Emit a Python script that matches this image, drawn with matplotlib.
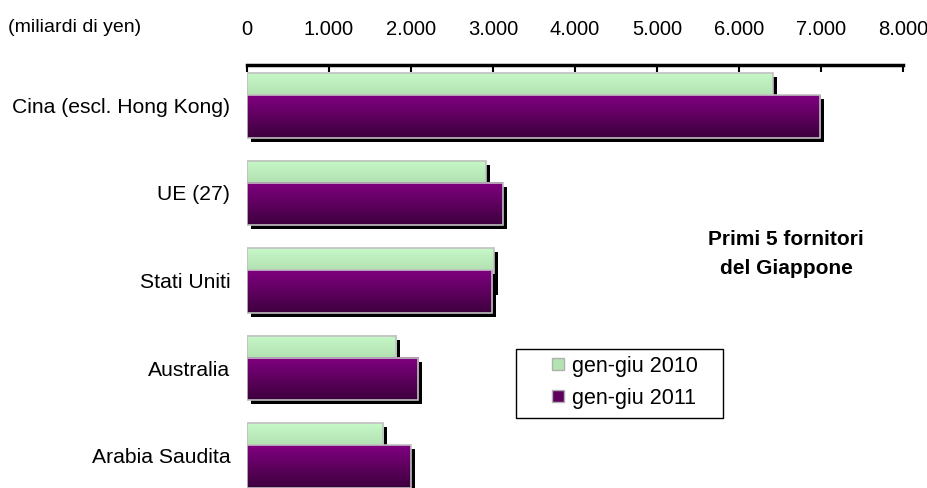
import numpy as np
import matplotlib
matplotlib.use("Agg")
import matplotlib.pyplot as plt
import matplotlib.transforms as mtransforms
from matplotlib.patches import Rectangle
from matplotlib.ticker import FuncFormatter
from matplotlib.lines import Line2D

plt.rcParams['font.family'] = ['Liberation Sans', 'DejaVu Sans']

categories = ["Cina (escl. Hong Kong)", "UE (27)", "Stati Uniti", "Australia", "Arabia Saudita"]
values_2010 = [6410, 2910, 3010, 1820, 1660]
values_2011 = [6990, 3120, 2990, 2090, 2000]
series_labels = ["gen-giu 2010", "gen-giu 2011"]
xticks = [0, 1000, 2000, 3000, 4000, 5000, 6000, 7000, 8000]

W, H = 928, 488
fig = plt.figure(figsize=(W/100, H/100), dpi=100)
ax = fig.add_axes([247/W, 0, (903-247)/W, 1 - 65/H])

h = 0.49
off = 0.125
green_grad = np.array([[0.78, 0.97, 0.78], [0.62, 0.80, 0.62]])
purple_grad = np.array([[0.50, 0.0, 0.50], [0.24, 0.0, 0.24]])

def grad_img(c):
    t = np.linspace(0, 1, 64)[:, None]
    img = c[0][None, :] * (1 - t) + c[1][None, :] * t
    return img[:, None, :]

shadow_tr = ax.transData + mtransforms.ScaledTranslation(4/100, -4/100, fig.dpi_scale_trans)

for i, cat in enumerate(categories):
    for k, (v, dy, grad) in enumerate([(values_2010[i], -off, green_grad), (values_2011[i], off, purple_grad)]):
        z = 2 + 3 * k
        yc = i + dy
        y0, y1 = yc - h/2, yc + h/2
        ax.add_patch(Rectangle((0, y0), v, h, facecolor='black', edgecolor='none',
                               transform=shadow_tr, zorder=z))
        ax.imshow(grad_img(grad), extent=(0, v, y1, y0), aspect='auto',
                  interpolation='bilinear', zorder=z + 1)
        ax.add_patch(Rectangle((0, y0), v, h, facecolor='none', edgecolor='#c0c0c0',
                               linewidth=1.2, zorder=z + 2))

ax.set_xlim(0, 8000)
ax.set_ylim(4 + 32.5/87.5, -40.5/87.5)
ax.set_yticks(range(len(categories)))
ax.set_yticklabels(categories, fontsize=15.2)
ax.tick_params(axis='y', length=0, pad=12)

ax.xaxis.tick_top()
ax.set_xticks(xticks)
ax.xaxis.set_major_formatter(FuncFormatter(lambda x, p: f"{int(x):,}".replace(",", ".")))
ax.tick_params(axis='x', direction='in', length=5, width=1.5, labelsize=14.5, pad=19)
for s in ['left', 'right', 'bottom']:
    ax.spines[s].set_visible(False)
ax.spines['top'].set_linewidth(2.5)

fig.text(8/W, 1 - 28/H, "(miliardi di yen)", fontsize=14, ha='left', va='center')
fig.text(786/W, 1 - 254/H, "Primi 5 fornitori\ndel Giappone", fontsize=15, fontweight='bold',
         ha='center', va='center', linespacing=1.6)

# legend frame
fig.add_artist(Rectangle((516/W, 1 - 418/H), (723-516)/W, (418-349)/H, transform=fig.transFigure,
                         facecolor='white', edgecolor='black', linewidth=1.0, zorder=5))
handles = [Line2D([], [], marker='s', linestyle='none', markersize=9,
                  markerfacecolor=tuple(green_grad.mean(axis=0)), markeredgecolor='#b0b0b0'),
           Line2D([], [], marker='s', linestyle='none', markersize=9,
                  markerfacecolor=tuple(purple_grad.mean(axis=0)), markeredgecolor='#b0b0b0')]
leg = fig.legend(handles, series_labels, loc='upper left',
                 bbox_to_anchor=(547/W, 1 - 356/H), fontsize=15.5, frameon=False,
                 handletextpad=0.15, borderpad=0, handlelength=1.0, labelspacing=0.5,
                 borderaxespad=0)
leg.set_zorder(6)

fig.savefig("out.png", dpi=100)
